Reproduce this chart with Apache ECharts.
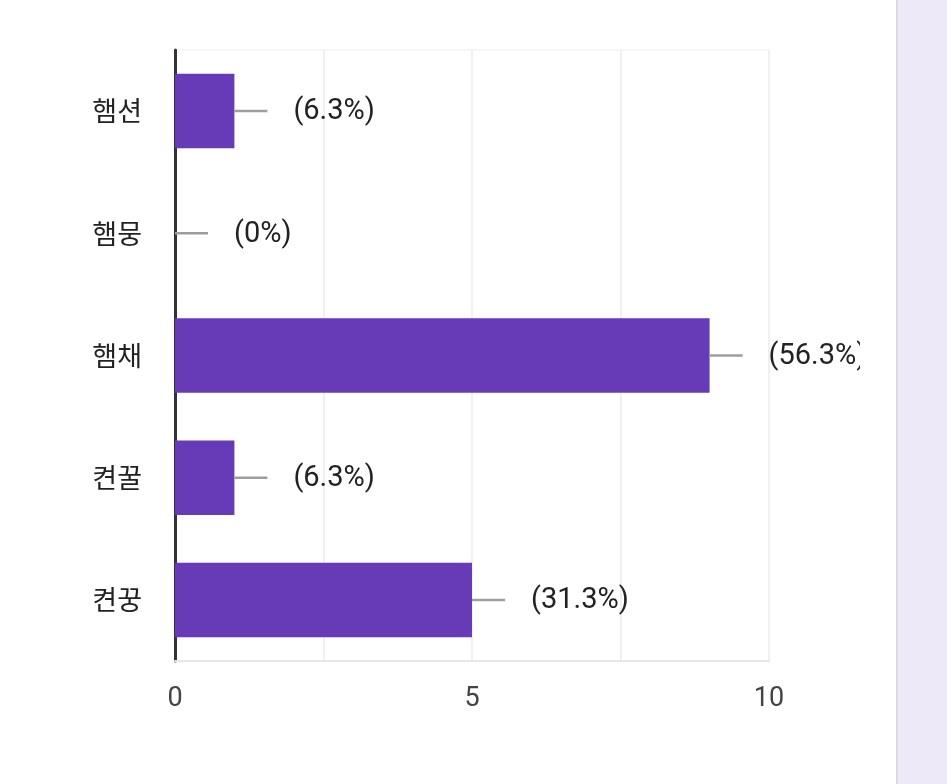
<!DOCTYPE html>
<html>
<head>
<meta charset="utf-8">
<script src="https://cdn.jsdelivr.net/npm/echarts@6/dist/echarts.min.js"></script>
<style>
html,body{margin:0;padding:0;background:#fff;width:947px;height:784px;overflow:hidden;}
#chart{position:absolute;left:0;top:0;width:860px;height:784px;}
#side{position:absolute;left:896px;top:0;width:51px;height:784px;background:#ede9f8;border-left:2px solid #dcdce0;box-sizing:border-box;}
</style>
</head>
<body>
<div id="chart"></div>
<div id="side"></div>
<script>
var categories = ['햄션', '햄뭉', '햄채', '켠꿀', '켠꿍'];
var counts = [1, 0, 9, 1, 5];
var pctLabels = ['(6.3%)', '(0%)', '(56.3%)', '(6.3%)', '(31.3%)'];
var xTicks = [0, 5, 10];

var chart = echarts.init(document.getElementById('chart'));
var labelData = counts.map(function (v, i) { return [v, i]; });

chart.setOption({
  backgroundColor: '#ffffff',
  animation: false,
  grid: { left: 175, right: 91, top: 50, bottom: 123, show: true, borderColor: '#eeeeee', borderWidth: 1, backgroundColor: 'transparent' },
  xAxis: {
    type: 'value', min: 0, max: 10, interval: 2.5,
    axisLine: { show: true, lineStyle: { color: '#e6e6e6', width: 2 } },
    axisTick: { show: false },
    splitLine: { show: true, lineStyle: { color: '#f0f0f0', width: 2 } },
    axisLabel: {
      margin: 25, color: '#444', fontSize: 27, fontFamily: 'Roboto',
      formatter: function (v) { return xTicks.indexOf(v) >= 0 ? String(v) : ''; }
    }
  },
  yAxis: {
    type: 'category', data: categories, inverse: true,
    axisLine: { show: true, lineStyle: { color: '#333333', width: 3 } },
    axisTick: { show: false },
    axisLabel: { margin: 33, color: '#222', fontSize: 27, fontFamily: 'Noto Sans CJK KR' }
  },
  series: [
    {
      type: 'bar', data: counts, barCategoryGap: '39%',
      itemStyle: { color: '#673ab7' }, z: 2
    },
    {
      type: 'custom', data: labelData, clip: false, z: 3,
      renderItem: function (params, api) {
        var p = api.coord([api.value(0), api.value(1)]);
        return {
          type: 'group',
          children: [
            { type: 'line', shape: { x1: p[0], y1: p[1], x2: p[0] + 33, y2: p[1] },
              style: { stroke: '#9e9e9e', lineWidth: 2.5 } },
            { type: 'text', x: p[0] + 59, y: p[1] + 1,
              style: { text: pctLabels[params.dataIndex], fill: '#222', font: '29px Roboto', verticalAlign: 'middle', align: 'left' } }
          ]
        };
      }
    }
  ]
});
</script>
</body>
</html>
